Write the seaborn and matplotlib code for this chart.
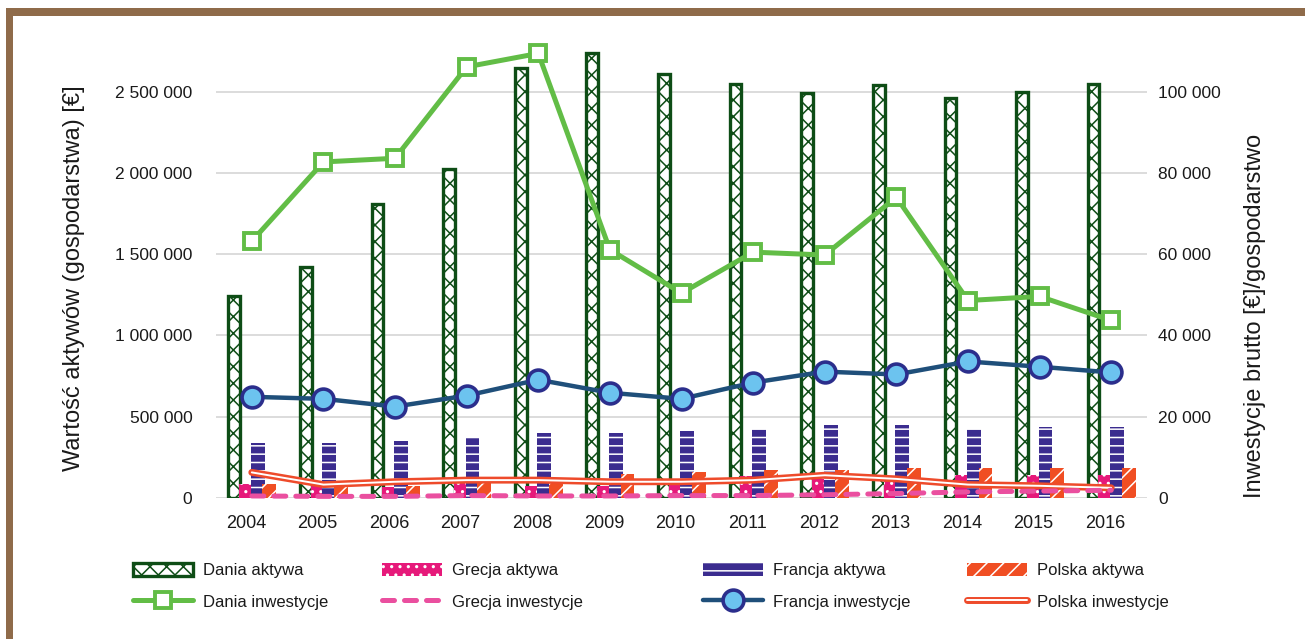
import matplotlib
matplotlib.use("Agg")
import matplotlib.pyplot as plt
import matplotlib.patheffects as pe
import matplotlib.transforms as mtransforms
from matplotlib.patches import Patch, Rectangle
from matplotlib.lines import Line2D
from matplotlib.ticker import FuncFormatter
import numpy as np
import pandas as pd
import seaborn as sns

# --- data -------------------------------------------------------------
years = ["2004", "2005", "2006", "2007", "2008", "2009", "2010",
         "2011", "2012", "2013", "2014", "2015", "2016"]
countries = ["Dania", "Grecja", "Francja", "Polska"]

# asset value per farm [EUR] (left axis, bars)
dania_aktywa = [1243000, 1420000, 1808000, 2025000, 2646000, 2735000, 2610000,
                2550000, 2490000, 2540000, 2460000, 2500000, 2550000]
grecja_aktywa = [86000, 76000, 70000, 93000, 75000, 75000, 85000,
                 135000, 118000, 105000, 140000, 140000, 140000]
francja_aktywa = [340000, 340000, 352000, 377000, 400000, 400000, 414000,
                  426000, 450000, 450000, 426000, 438000, 438000]
polska_aktywa = [86000, 86000, 75000, 105000, 117000, 148000, 160000,
                 173000, 173000, 185000, 185000, 185000, 185000]

# gross investment per farm [EUR] (right axis, lines)
dania_inwestycje = [63200, 82700, 83600, 106100, 109400, 61100, 50400,
                    60500, 59800, 74000, 48600, 49600, 43700]
grecja_inwestycje = [500, 400, 400, 600, 500, 500, 600,
                     600, 800, 1100, 1500, 1700, 1900]
francja_inwestycje = [24900, 24400, 22500, 25200, 29100, 25900, 24400,
                      28400, 31100, 30400, 33600, 32300, 30900]
polska_inwestycje = [6300, 3300, 4000, 4400, 4400, 4000, 4000,
                     4400, 5600, 4700, 3300, 3000, 2500]

aktywa = {"Dania": dania_aktywa, "Grecja": grecja_aktywa,
          "Francja": francja_aktywa, "Polska": polska_aktywa}

# --- styling ----------------------------------------------------------
sns.set_theme(style="white")
REGULAR = ["Liberation Sans", "DejaVu Sans"]
plt.rcParams["font.family"] = REGULAR
plt.rcParams["hatch.linewidth"] = 1.1

DK_GREEN = "#0e4d16"
LT_GREEN = "#62bd46"
MAGENTA = "#e6197a"
PINK = "#ea4f9f"
INDIGO = "#3b2c8f"
STEEL = "#1f4f7a"
SKY = "#6cc3ef"
ORANGE = "#f04e23"
RED = "#ee4b2b"
TEXT = "#1a1a1a"

bar_styles = {
    "Dania": dict(facecolor="white", edgecolor=DK_GREEN, hatch="xx", linewidth=2.4),
    "Grecja": dict(facecolor=MAGENTA, edgecolor="white", hatch="..", linewidth=0),
    "Francja": dict(facecolor=INDIGO, edgecolor="white", hatch="--", linewidth=0),
    "Polska": dict(facecolor=ORANGE, edgecolor="white", hatch="//", linewidth=0),
}

W, H = 1305, 639
fig = plt.figure(figsize=(W / 100, H / 100), dpi=100)
fig.patch.set_facecolor("white")
ax = fig.add_axes([216 / W, (H - 498) / H, (1147 - 216) / W, (498 - 51) / H])

# --- bars: asset value -----------------------------------------------
bars = pd.DataFrame({
    "rok": years * len(countries),
    "kraj": [c for c in countries for _ in years],
    "wartosc": [v for c in countries for v in aktywa[c]],
})
sns.barplot(data=bars, x="rok", y="wartosc", hue="kraj", hue_order=countries,
            palette={c: bar_styles[c]["facecolor"] for c in countries},
            width=0.655, saturation=1, errorbar=None, legend=False, ax=ax)

for country, container in zip(countries, ax.containers):
    st = bar_styles[country]
    for p in container.patches:
        p.set_facecolor(st["facecolor"])
        p.set_edgecolor(st["edgecolor"])
        p.set_hatch(st["hatch"])
        p.set_linewidth(st["linewidth"])
        if st["linewidth"] == 0:
            cx = p.get_x() + p.get_width() / 2
            w = p.get_width() * 1.18
            p.set_x(cx - w / 2)
            p.set_width(w)

ax.set_xlim(-0.5, len(years) - 0.5)
ax.set_ylim(0, 2_750_000)
ax.set_yticks(range(0, 2_500_001, 500_000))
space_fmt = FuncFormatter(lambda v, _: f"{v:,.0f}".replace(",", " "))
ax.yaxis.set_major_formatter(space_fmt)
ax.yaxis.grid(True, color="#d9d9d9", linewidth=1.3)
ax.set_axisbelow(True)
for s in ax.spines.values():
    s.set_visible(False)
ax.tick_params(axis="y", length=0, pad=17, labelsize=12.5, labelcolor=TEXT)
ax.tick_params(axis="x", length=0, pad=12, labelsize=13, labelcolor=TEXT)
shift = mtransforms.ScaledTranslation(-6 / 100, 0, fig.dpi_scale_trans)
for lbl in ax.get_xticklabels():
    lbl.set_transform(lbl.get_transform() + shift)
ax.set_xlabel("")
ax.set_ylabel("Wartość aktywów (gospodarstwa) [€]", fontsize=17, color=TEXT)
ax.yaxis.set_label_coords(-0.141, 0.491)

# --- lines: gross investment -----------------------------------------
ax2 = ax.twinx()
xpos = np.arange(len(years))

sns.lineplot(x=xpos, y=polska_inwestycje, ax=ax2, color="white", linewidth=1.4,
             clip_on=False,
             path_effects=[pe.Stroke(linewidth=5.0, foreground=RED), pe.Normal()])
sns.lineplot(x=xpos, y=grecja_inwestycje, ax=ax2, color=PINK, linewidth=3.6,
             linestyle=(0, (2.4, 2.0)), dash_capstyle="round", clip_on=False)
sns.lineplot(x=xpos, y=francja_inwestycje, ax=ax2, color=STEEL, linewidth=3.2,
             marker="o", markersize=15, markerfacecolor=SKY,
             markeredgecolor="#2b2e8c", markeredgewidth=2.6, clip_on=False)
sns.lineplot(x=xpos, y=dania_inwestycje, ax=ax2, color=LT_GREEN, linewidth=3.6,
             marker="s", markersize=11.5, markerfacecolor="white",
             markeredgecolor=LT_GREEN, markeredgewidth=2.8, clip_on=False)

ax2.set_ylim(0, 110_000)
ax2.set_yticks(range(0, 100_001, 20_000))
ax2.yaxis.set_major_formatter(space_fmt)
ax2.grid(False)
for s in ax2.spines.values():
    s.set_visible(False)
ax2.tick_params(axis="y", length=0, pad=8, labelsize=12.5, labelcolor=TEXT)
ax2.set_ylabel("Inwestycje brutto [€]/gospodarstwo", fontsize=17, color=TEXT)
ax2.yaxis.set_label_coords(1.104, 0.407)

# --- legend: one column per country ----------------------------------
def bar_handle(country):
    st = bar_styles[country]
    return Patch(facecolor=st["facecolor"], edgecolor=st["edgecolor"],
                 hatch=st["hatch"], linewidth=st["linewidth"])

line_handles = {
    "Dania": Line2D([], [], color=LT_GREEN, lw=3.6, marker="s", ms=11.5,
                    mfc="white", mec=LT_GREEN, mew=2.8),
    "Grecja": Line2D([], [], color=PINK, lw=3.6, linestyle=(0, (2.4, 2.0)),
                     dash_capstyle="round"),
    "Francja": Line2D([], [], color=STEEL, lw=3.2, marker="o", ms=15,
                      mfc=SKY, mec="#2b2e8c", mew=2.6),
    "Polska": Line2D([], [], color="white", lw=1.4,
                     path_effects=[pe.Stroke(linewidth=5.0, foreground=RED), pe.Normal()]),
}
legend_x = {"Dania": 133, "Grecja": 382, "Francja": 703, "Polska": 967}
for c in countries:
    fig.legend([bar_handle(c), line_handles[c]],
               [f"{c} aktywa", f"{c} inwestycje"],
               loc="upper left", bbox_to_anchor=(legend_x[c] / W, (H - 563) / H),
               frameon=False, fontsize=12, handlelength=3.6, handleheight=0.85,
               handletextpad=0.6, labelspacing=0.95, borderpad=0,
               borderaxespad=0, numpoints=1, labelcolor=TEXT)

# --- page frame ------------------------------------------------------
BROWN = "#8f6b4a"
fig.add_artist(Rectangle((6 / W, (H - 16) / H), 1 - 6 / W, 8 / H,
                         transform=fig.transFigure, facecolor=BROWN,
                         edgecolor="none", zorder=10))
fig.add_artist(Rectangle((6 / W, 0), 7 / W, (H - 8) / H,
                         transform=fig.transFigure, facecolor=BROWN,
                         edgecolor="none", zorder=10))

fig.savefig("out.png", dpi=100)
